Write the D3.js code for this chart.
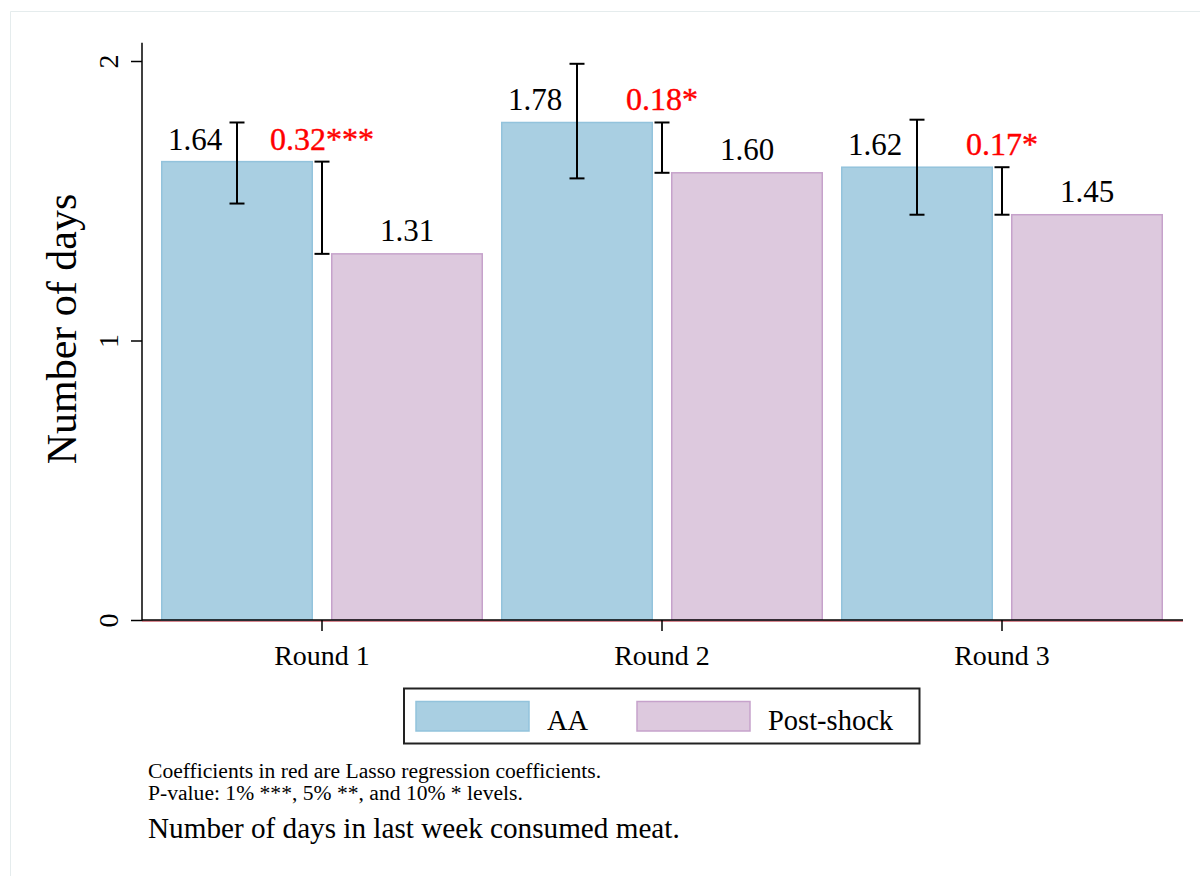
<!DOCTYPE html>
<html>
<head>
<meta charset="utf-8">
<script src="https://cdn.jsdelivr.net/npm/d3@7"></script>
<style>
  html, body { margin: 0; padding: 0; background: #fff; }
  svg { display: block; font-family: "Liberation Serif", "Times New Roman", serif; }
</style>
</head>
<body>
<svg id="chart" width="1200" height="876"></svg>
<script>
// ---- data ----
const rounds = ["Round 1", "Round 2", "Round 3"];
const seriesNames = ["AA", "Post-shock"];
const aaValues = [1.64, 1.78, 1.62];
const postValues = [1.31, 1.60, 1.45];
const aaCiLow = [1.49, 1.58, 1.45];
const aaCiHigh = [1.78, 1.99, 1.79];
const lassoCoef = [0.32, 0.18, 0.17];
const lassoStars = ["***", "*", "*"];
const yTicks = [0, 1, 2];
const footnotes = [
  "Coefficients in red are Lasso regression coefficients.",
  "P-value: 1% ***, 5% **, and 10% * levels."
];
const caption = "Number of days in last week consumed meat.";
const yTitle = "Number of days";

// ---- layout ----
const svg = d3.select("#chart");
const colors = { "AA": { fill: "#a9cfe2", stroke: "#93c3dc" },
                 "Post-shock": { fill: "#ddc9de", stroke: "#c6a2cb" } };
const axisX = 142, plotRight = 1182, baseY = 620, topY = 61;

// faint outer frame (top and left edges)
svg.append("line").attr("x1", 10.5).attr("x2", 1200).attr("y1", 11.5).attr("y2", 11.5)
  .attr("stroke", "#e5eced").attr("stroke-width", 1);
svg.append("line").attr("x1", 10.5).attr("x2", 10.5).attr("y1", 11.5).attr("y2", 876)
  .attr("stroke", "#e5eced").attr("stroke-width", 1);

const y = d3.scaleLinear().domain([0, 2]).range([baseY, topY]);
const x0 = d3.scaleBand().domain(rounds).range([axisX, plotRight])
  .paddingInner(18 / 340).paddingOuter(19 / 340);
const x1 = d3.scaleBand().domain(seriesNames).range([0, x0.bandwidth()])
  .paddingInner(18 / 170).paddingOuter(0);

const data = rounds.map((r, i) => ({
  round: r,
  bars: [
    { key: "AA", value: aaValues[i] },
    { key: "Post-shock", value: postValues[i] }
  ],
  lo: aaCiLow[i], hi: aaCiHigh[i],
  coef: lassoCoef[i], stars: lassoStars[i],
  aa: aaValues[i], post: postValues[i]
}));

// red zero line under axis
svg.append("line").attr("x1", axisX).attr("x2", plotRight + 1)
  .attr("y1", baseY + 1).attr("y2", baseY + 1)
  .attr("stroke", "#b01020").attr("stroke-width", 1.2);

// bars
const groups = svg.append("g").selectAll("g").data(data).join("g")
  .attr("transform", d => `translate(${x0(d.round)},0)`);
groups.selectAll("rect").data(d => d.bars).join("rect")
  .attr("x", d => x1(d.key) + 0.75)
  .attr("width", x1.bandwidth() - 1.5)
  .attr("y", d => y(d.value))
  .attr("height", d => baseY - y(d.value))
  .attr("fill", d => colors[d.key].fill)
  .attr("stroke", d => colors[d.key].stroke)
  .attr("stroke-width", 1.5);

// y axis
const yAxis = d3.axisLeft(y).tickValues(yTicks).tickSize(11).tickFormat(d3.format("d"));
const gy = svg.append("g").attr("transform", `translate(${axisX},0)`).call(yAxis);
gy.select(".domain").remove();
gy.selectAll(".tick line").attr("stroke", "#000").attr("stroke-width", 1.5);
gy.selectAll(".tick text")
  .attr("transform", "rotate(-90)")
  .attr("x", 0).attr("y", -24).attr("dy", 0)
  .attr("text-anchor", "middle")
  .attr("font-size", 28).attr("fill", "#000")
  .style("font-family", "Liberation Serif");
svg.append("line").attr("x1", axisX).attr("x2", axisX)
  .attr("y1", y(2.065)).attr("y2", baseY + 0.75)
  .attr("stroke", "#000").attr("stroke-width", 1.5);

// x axis
const xAxis = d3.axisBottom(x0).tickSize(11).tickSizeOuter(0);
const gx = svg.append("g").attr("transform", `translate(0,${baseY})`).call(xAxis);
gx.select(".domain").attr("stroke", "#000").attr("stroke-width", 1.5)
  .attr("d", `M${axisX},0H${plotRight + 1}`);
gx.selectAll(".tick line").attr("stroke", "#000").attr("stroke-width", 1.5);
gx.selectAll(".tick text").attr("y", 45).attr("dy", 0)
  .attr("font-size", 28).attr("fill", "#000")
  .style("font-family", "Liberation Serif");

// AA confidence intervals
const cap = 7.5;
const ci = svg.append("g").attr("stroke", "#000").attr("stroke-width", 2).attr("fill", "none");
data.forEach(d => {
  const cx = x0(d.round) + x1("AA") + x1.bandwidth() / 2;
  ci.append("line").attr("x1", cx).attr("x2", cx).attr("y1", y(d.hi)).attr("y2", y(d.lo));
  ci.append("line").attr("x1", cx - cap).attr("x2", cx + cap).attr("y1", y(d.hi)).attr("y2", y(d.hi));
  ci.append("line").attr("x1", cx - cap).attr("x2", cx + cap).attr("y1", y(d.lo)).attr("y2", y(d.lo));
  // Lasso difference bar at group centre
  const gx2 = x0(d.round) + x0.bandwidth() / 2;
  ci.append("line").attr("x1", gx2).attr("x2", gx2).attr("y1", y(d.aa)).attr("y2", y(d.post));
  ci.append("line").attr("x1", gx2 - cap).attr("x2", gx2 + cap).attr("y1", y(d.aa)).attr("y2", y(d.aa));
  ci.append("line").attr("x1", gx2 - cap).attr("x2", gx2 + cap).attr("y1", y(d.post)).attr("y2", y(d.post));
});

// value labels
const fmt = d3.format(".2f");
const labels = svg.append("g").attr("font-size", 31).attr("text-anchor", "middle");
data.forEach(d => {
  const aaC = x0(d.round) + x1("AA") + x1.bandwidth() / 2;
  const poC = x0(d.round) + x1("Post-shock") + x1.bandwidth() / 2;
  const gC = x0(d.round) + x0.bandwidth() / 2;
  labels.append("text").attr("x", aaC - 42).attr("y", y(d.aa) - 12).attr("fill", "#000").text(fmt(d.aa));
  labels.append("text").attr("x", poC).attr("y", y(d.post) - 13).attr("fill", "#000").text(fmt(d.post));
  labels.append("text").attr("x", gC).attr("y", y(d.aa) - 12).attr("fill", "#ff0000")
    .attr("font-size", 32).attr("stroke", "#ff0000").attr("stroke-width", 0.4)
    .text(fmt(d.coef) + d.stars);
});

// y title
svg.append("text").attr("transform", "translate(76,329) rotate(-90)")
  .attr("text-anchor", "middle").attr("font-size", 42).attr("fill", "#000").text(yTitle);

// legend
const lg = svg.append("g");
lg.append("rect").attr("x", 404).attr("y", 688.5).attr("width", 515.5).attr("height", 55)
  .attr("fill", "#fff").attr("stroke", "#222").attr("stroke-width", 2);
const legendItems = [
  { key: "AA", sx: 416, tx: 547 },
  { key: "Post-shock", sx: 637, tx: 768 }
];
legendItems.forEach(it => {
  lg.append("rect").attr("x", it.sx).attr("y", 701.5).attr("width", 113).attr("height", 29.5)
    .attr("fill", colors[it.key].fill).attr("stroke", colors[it.key].stroke).attr("stroke-width", 1.5);
  lg.append("text").attr("x", it.tx).attr("y", 730).attr("font-size", 28.5).attr("fill", "#000").text(it.key);
});

// footnotes
svg.selectAll("text.fn").data(footnotes).join("text").attr("class", "fn")
  .attr("x", 148).attr("y", (d, i) => 778 + i * 22)
  .attr("font-size", 21.6).attr("fill", "#000").text(d => d);
svg.append("text").attr("x", 148).attr("y", 838).attr("font-size", 29.2).attr("fill", "#000").text(caption);
</script>
</body>
</html>
